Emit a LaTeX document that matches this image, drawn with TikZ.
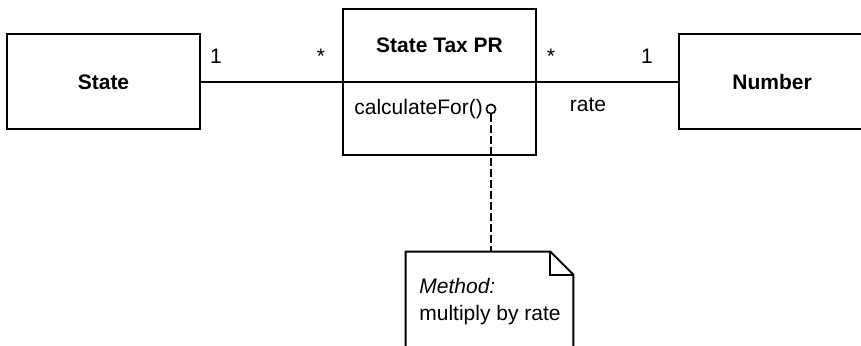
\documentclass[tikz,border=0pt]{standalone}
\usepackage{fontspec}
\setmainfont{Liberation Sans}
\usepackage{tikz}
\usetikzlibrary{positioning, calc}

\begin{document}
\begin{tikzpicture}[
    x=0.5pt, y=-0.5pt,
    every node/.style={font=\fontsize{10.5}{13.5}\selectfont},
    classbox/.style={rectangle, draw, line width=1pt, minimum height=47.5pt, align=center, font=\fontsize{10.5}{13.5}\selectfont\bfseries},
    assoc/.style={line width=1pt},
    mult/.style={anchor=base, inner sep=0pt},
    notelink/.style={line width=0.8pt, dash pattern=on 4pt off 1.5pt}
]
\useasboundingbox (0,0) rectangle (861,346);

% Nodes
\node[classbox, minimum width=96.5pt] (state) at (103.5,82) {State};
\node[classbox, minimum width=96.5pt, minimum height=73pt] (taxpr) at (439.5,82) {};
\node[classbox, minimum width=93pt] (number) at (772,82) {Number};
\node[font=\fontsize{10.5}{13.5}\selectfont\bfseries] (title) at (439.5,45) {State Tax PR};
\node[anchor=base west, inner sep=0pt] (method) at (354,115) {calculateFor()};
\node[circle, draw, line width=0.8pt, fill=white, minimum size=4.6pt, inner sep=0pt] (knob) at (491,109) {};
\node[rectangle, minimum width=83.5pt, minimum height=55pt, inner sep=0pt] (note) at (489.5,307) {};
\node[anchor=north west, inner sep=0pt, align=left] (notetext) at (419,278) {\textit{Method:}\\multiply by rate};

% Labels
\node[mult] (m1) at (216,64) {1};
\node[mult] (m2) at (321,64) {*};
\node[mult] (m3) at (551,64) {*};
\node[mult] (m4) at (647,64) {1};
\node[mult] (role) at (588,112) {rate};

% Compartment
\draw[line width=1pt] ([yshift=-37pt]taxpr.north west) -- ([yshift=-37pt]taxpr.north east);

% Note shape
\draw[line width=1pt] (note.south west) -- (note.north west) -- ([xshift=-11.5pt]note.north east)
    -- ([yshift=-11.5pt]note.north east) -- (note.south east);
\draw[line width=1pt] ([xshift=-11.5pt]note.north east) -- ([xshift=-11.5pt,yshift=-11.5pt]note.north east)
    -- ([yshift=-11.5pt]note.north east);

% Arrows
\draw[assoc] (state) -- (taxpr);
\draw[assoc] (taxpr) -- (number);
\draw[notelink] (knob) -- (knob |- note.north);

\end{tikzpicture}
\end{document}
